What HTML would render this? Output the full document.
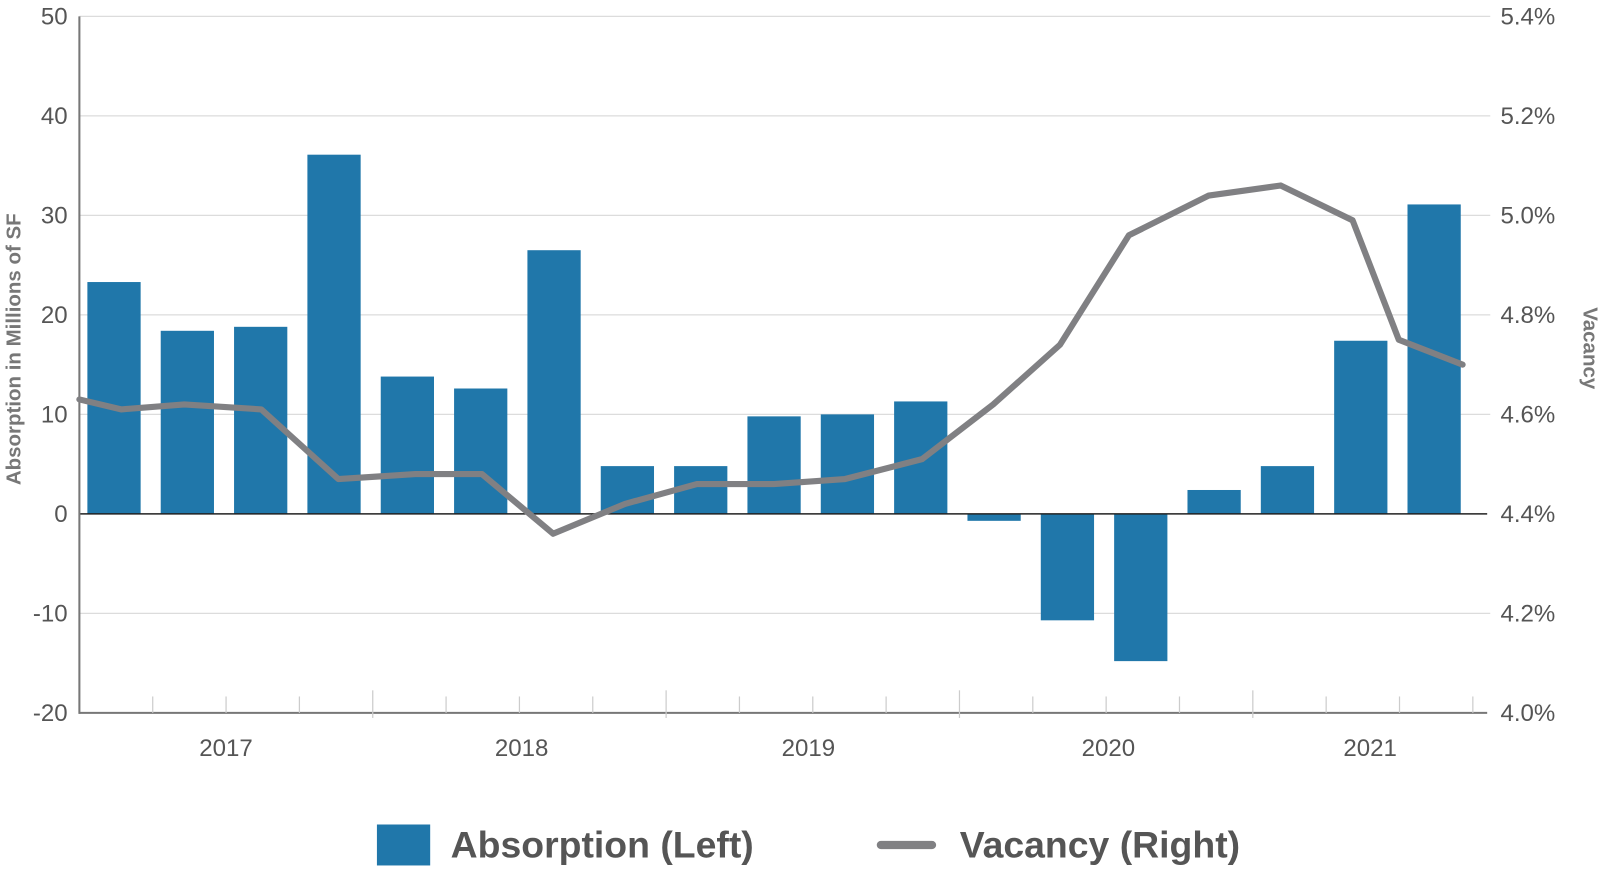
<!DOCTYPE html>
<html><head><meta charset="utf-8"><style>
html,body{margin:0;padding:0;background:#fff;}
svg{display:block;font-family:"Liberation Sans",sans-serif;}
</style></head><body>
<svg id="chart" width="1606" height="888" viewBox="0 0 1568 867" xmlns="http://www.w3.org/2000/svg"></svg>
<script>
const categories = ["Q1 2017","Q2 2017","Q3 2017","Q4 2017","Q1 2018","Q2 2018","Q3 2018","Q4 2018","Q1 2019","Q2 2019","Q3 2019","Q4 2019","Q1 2020","Q2 2020","Q3 2020","Q4 2020","Q1 2021","Q2 2021","Q3 2021"];
const absorption = [23.3,18.4,18.8,36.1,13.8,12.6,26.5,4.8,4.8,9.8,10,11.3,-0.7,-10.7,-14.8,2.4,4.8,17.4,31.1];
const vacancyPos = [0,0.57,1.43,2.48,3.53,4.58,5.49,6.46,7.44,8.42,9.47,10.44,11.49,12.46,13.37,14.31,15.4,16.38,17.36,17.99,18.86];
const vacancy = [4.63,4.61,4.62,4.61,4.47,4.48,4.48,4.36,4.42,4.46,4.46,4.47,4.51,4.62,4.74,4.96,5.04,5.06,4.99,4.75,4.70];
const leftTicks = [50,40,30,20,10,0,-10,-20];
const rightTicks = ["5.4%","5.2%","5.0%","4.8%","4.6%","4.4%","4.2%","4.0%"];
const years = ["2017","2018","2019","2020","2021"];
const yearCenters = [2,6.03,9.94,14.03,17.6];

const svg = document.getElementById('chart');
const NS = "http://www.w3.org/2000/svg";
const X0 = 77.5, X1 = 1438, Y0 = 16, Y1 = 696;
const band = (X1 - X0) / categories.length;
const yL = v => Y0 + (50 - v) / 70 * (Y1 - Y0);
const yR = v => Y0 + (5.4 - v) / 1.4 * (Y1 - Y0);
const xB = i => X0 + i * band;
function mk(tag, attrs, parent) {
  const e = document.createElementNS(NS, tag);
  for (const k in attrs) e.setAttribute(k, attrs[k]);
  (parent || svg).appendChild(e);
  return e;
}
leftTicks.forEach((t, i) => {
  const y = yL(t);
  if (t !== 0 && t !== -20) {
    const g = mk('line', {x1: X0, x2: 1455, y1: y, y2: y, stroke: '#dcdcdc', 'stroke-width': 1.2});
    
    
  }
  const tl = mk('text', {x: 66, y: y + 8, 'text-anchor': 'end', 'font-size': 23.5, fill: '#555'});
  tl.textContent = t;
  
  
  const tr = mk('text', {x: 1465, y: y + 8, 'font-size': 23.5, fill: '#555'});
  tr.textContent = rightTicks[i];
  
  
});
absorption.forEach((v, i) => {
  const w = 52, cx = xB(i + 0.5) - 2;
  const r = mk('rect', {x: cx - w / 2, y: Math.min(yL(v), yL(0)), width: w, height: Math.abs(yL(v) - yL(0)), fill: '#2077aa'});
  
  
});
const z = mk('line', {x1: X0, x2: 1452, y1: yL(0), y2: yL(0), stroke: '#222', 'stroke-width': 1.5});


const ax = mk('line', {x1: X0, x2: X0, y1: Y0, y2: Y1 + 1, stroke: '#777', 'stroke-width': 2});


const bx = mk('line', {x1: X0, x2: 1452, y1: Y1, y2: Y1, stroke: '#777', 'stroke-width': 2});


for (let i = 1; i <= categories.length; i++) {
  const major = i % 4 === 0;
  const tk = mk('line', {x1: xB(i), x2: xB(i), y1: major ? Y1 - 22 : Y1 - 16, y2: major ? Y1 + 5 : Y1, stroke: '#ccc', 'stroke-width': 1.2});
  
  
}
years.forEach((yr, i) => {
  const t = mk('text', {x: xB(yearCenters[i]), y: 738, 'text-anchor': 'middle', 'font-size': 23.5, fill: '#555'});
  t.textContent = yr;
  
  
});
const pts = vacancyPos.map((p, i) => (X0 + p * band).toFixed(1) + ',' + yR(vacancy[i]).toFixed(1)).join(' ');
const pl = mk('polyline', {points: pts, fill: 'none', stroke: '#808083', 'stroke-width': 6, 'stroke-linejoin': 'round', 'stroke-linecap': 'round'});


const lt = mk('text', {x: 0, y: 0, transform: 'translate(20,341) rotate(-90)', 'text-anchor': 'middle', 'font-size': 20, 'font-weight': 'bold', fill: '#777'});
lt.textContent = 'Absorption in Millions of SF';


const rt = mk('text', {x: 0, y: 0, transform: 'translate(1546,340) rotate(90)', 'text-anchor': 'middle', 'font-size': 20, 'font-weight': 'bold', fill: '#777'});
rt.textContent = 'Vacancy';


const lg = mk('g', {});


const ls = mk('rect', {x: 368, y: 805, width: 52, height: 40, fill: '#2077aa'}, lg);


const la = mk('text', {x: 440, y: 837, 'font-size': 36.5, 'font-weight': 'bold', fill: '#555'}, lg);
la.textContent = 'Absorption (Left)';


const ll = mk('line', {x1: 860, x2: 910, y1: 825, y2: 825, stroke: '#808083', 'stroke-width': 8, 'stroke-linecap': 'round'}, lg);


const lv = mk('text', {x: 937, y: 837, 'font-size': 36.5, 'font-weight': 'bold', fill: '#555'}, lg);
lv.textContent = 'Vacancy (Right)';


</script>
</body></html>
